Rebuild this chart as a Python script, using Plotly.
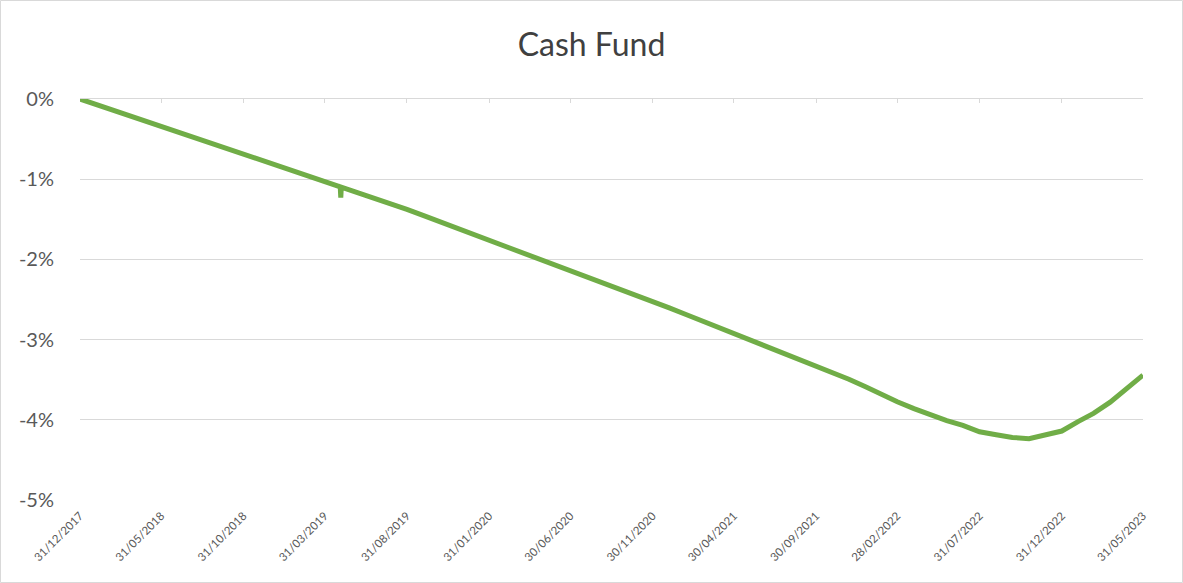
import pandas as pd
import plotly.graph_objects as go

# Month-end dates from 31/12/2017 to 31/05/2023
month_ends = pd.date_range("2017-12-31", "2023-05-31", freq="ME")

# Cumulative return (%) at each month-end
monthly_values = [
    0.000, -0.070, -0.133, -0.203, -0.271, -0.341, -0.408, -0.478, -0.548, -0.616,
    -0.686, -0.753, -0.824, -0.893, -0.957, -1.027, -1.230, -1.166, -1.232, -1.300,
    -1.377, -1.452, -1.529, -1.605, -1.683, -1.760, -1.832, -1.910, -1.985, -2.062,
    -2.138, -2.215, -2.293, -2.369, -2.446, -2.524, -2.605, -2.687, -2.761, -2.843,
    -2.923, -3.004, -3.084, -3.167, -3.251, -3.330, -3.414, -3.494, -3.589, -3.695,
    -3.775, -3.860, -3.940, -4.010, -4.070, -4.150, -4.186, -4.220, -4.235, -4.190,
    -4.140, -4.020, -3.920, -3.780, -3.620, -3.443,
]

# Daily points around the one-day dip at the end of April 2019
spike_dates = ["2019-04-29", "2019-05-01"]
spike_values = [-1.095, -1.098]

tick_dates = ["2017-12-31", "2018-05-31", "2018-10-31", "2019-03-31", "2019-08-31",
              "2020-01-31", "2020-06-30", "2020-11-30", "2021-04-30", "2021-09-30",
              "2022-02-28", "2022-07-31", "2022-12-31", "2023-05-31"]
tick_labels = ["31/12/2017", "31/05/2018", "31/10/2018", "31/03/2019", "31/08/2019",
               "31/01/2020", "30/06/2020", "30/11/2020", "30/04/2021", "30/09/2021",
               "28/02/2022", "31/07/2022", "31/12/2022", "31/05/2023"]

y_ticks = [0, -1, -2, -3, -4, -5]
y_labels = ["0%", "-1%", "-2%", "-3%", "-4%", "-5%"]

df = pd.concat([
    pd.DataFrame({"date": month_ends, "value": monthly_values}),
    pd.DataFrame({"date": pd.to_datetime(spike_dates), "value": spike_values}),
]).sort_values("date")

W, H = 1183, 583
L, R, T, B = 80, 40, 99, 83

fig = go.Figure()
fig.add_trace(go.Scatter(
    x=df["date"], y=df["value"], mode="lines",
    line=dict(color="#70AD47", width=5),
    hoverinfo="skip", showlegend=False,
))
# invisible trace to carry the upper axis (axis line at 0%)
fig.add_trace(go.Scatter(
    x=[df["date"].iloc[0]], y=[0], xaxis="x2", mode="markers",
    marker=dict(opacity=0), hoverinfo="skip", showlegend=False,
))

axis_color = "#595959"
grid_color = "#D9D9D9"
font_family = "Lato, 'Open Sans', sans-serif"
x_range = ["2017-12-31", "2023-05-31"]

fig.update_layout(
    width=W, height=H,
    margin=dict(l=L, r=R, t=T, b=B, autoexpand=False),
    paper_bgcolor="white", plot_bgcolor="white",
    font=dict(family=font_family, color=axis_color),
    title=dict(text="Cash Fund", x=0.5, xanchor="center", xref="container",
               y=(H - 45) / H, yanchor="middle", yref="container",
               font=dict(size=32, color="#404040", family=font_family)),
    xaxis=dict(
        type="date", range=x_range,
        tickvals=tick_dates, ticktext=tick_labels, tickangle=-45,
        tickfont=dict(size=11.5, color=axis_color),
        showgrid=False, zeroline=False, showline=False, ticks="",
        ticklabelstandoff=6, automargin=False,
    ),
    xaxis2=dict(
        type="date", range=x_range, overlaying="x", side="top", anchor="y",
        tickvals=tick_dates, showticklabels=False,
        ticks="inside", ticklen=4, tickcolor=grid_color, tickwidth=1,
        showline=True, linecolor=grid_color, linewidth=1,
        showgrid=False, zeroline=False, automargin=False,
    ),
    yaxis=dict(
        range=[-5, 0], tickvals=y_ticks, ticktext=y_labels,
        tickfont=dict(size=20, color=axis_color),
        showgrid=True, gridcolor=grid_color, gridwidth=1,
        zeroline=False, showline=False, ticks="",
        ticklabelstandoff=25, automargin=False,
    ),
    shapes=[dict(
        type="rect", xref="paper", yref="paper", layer="below",
        x0=-(L - 0.5) / (W - L - R), x1=(W - L - 0.5) / (W - L - R),
        y0=-(B - 0.5) / (H - T - B), y1=(H - B - 0.5) / (H - T - B),
        line=dict(color="#D9D9D9", width=1), fillcolor="rgba(0,0,0,0)",
    )],
)

fig.write_html(
    "out.html",
    config={"displayModeBar": False},
    post_script="document.body.style.margin='0';document.body.style.padding='0';",
)
